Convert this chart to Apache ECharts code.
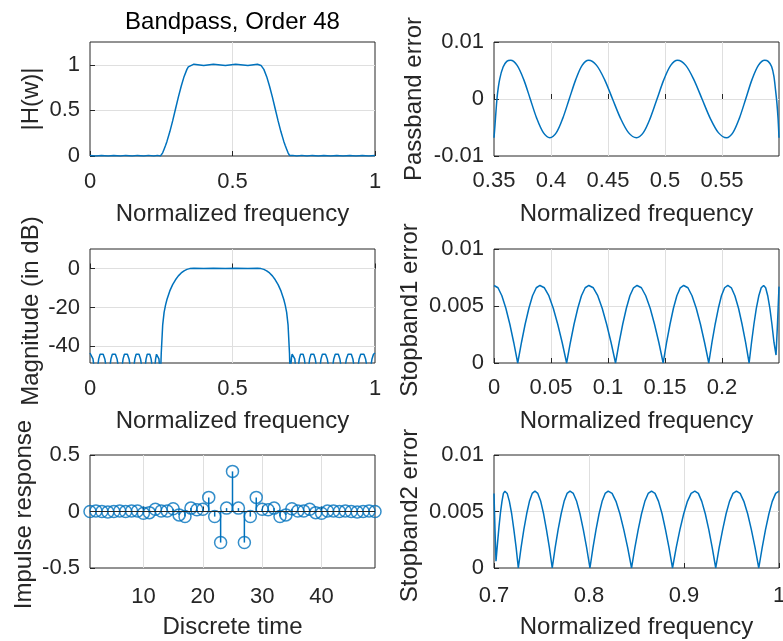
<!DOCTYPE html>
<html><head><meta charset="utf-8">
<script src="https://cdn.jsdelivr.net/npm/echarts@6/dist/echarts.min.js"></script>
<style>html,body{margin:0;padding:0;background:#fff}#c{width:783px;height:641px}</style>
</head><body><div id="c"></div>
<script>
// ---------------- data ----------------
// |H(w)| (top-left)
const magF = [0,0.0208,0.0403,0.0637,0.0832,0.1066,0.1255,0.1484,0.1664,0.1884,0.2051,0.2238,0.2365,0.2474,0.25,
  0.255,0.26,0.265,0.27,0.28,0.29,0.30,0.31,0.32,0.33,0.34,0.345,0.35,
  0.3646,0.399,0.433,0.475,0.511,0.554,0.5875,0.6,
  0.605,0.61,0.62,0.63,0.64,0.65,0.66,0.67,0.68,0.685,0.69,0.695,0.7,
  0.7021,0.7115,0.7256,0.7431,0.7613,0.78,0.801,0.8202,0.8448,0.8658,0.8879,0.9114,0.9334,0.9552,0.9787,1.0];
const magV = [0.0068,0,0.0068,0,0.0068,0,0.0068,0,0.0068,0,0.0068,0,0.0068,0.0007,0.0067,
  0.035,0.075,0.115,0.16,0.265,0.385,0.515,0.645,0.765,0.87,0.95,0.978,0.993,
  1.0068,0.9932,1.0068,0.9932,1.0068,0.9932,1.0068,0.9932,
  0.978,0.95,0.87,0.765,0.645,0.515,0.385,0.265,0.16,0.115,0.075,0.035,0.0066,
  0.0006,0.0068,0,0.0068,0,0.0068,0,0.0068,0,0.0068,0,0.0068,0,0.0068,0,0.0068];

// Magnitude in dB (middle-left)
const dbF = [0,0.0052,0.0104,0.0156,0.0208,0.0257,0.0306,0.0354,0.0403,0.0462,0.052,0.0579,0.0637,
  0.0686,0.0735,0.0783,0.0832,0.0891,0.0949,0.1008,0.1066,
  0.1113,0.1161,0.1208,0.1255,0.1312,0.137,0.1427,0.1484,
  0.1529,0.1574,0.1619,0.1664,0.1719,0.1774,0.1829,0.1884,
  0.1926,0.1968,0.2009,0.2051,0.2098,0.2145,0.2191,0.2238,
  0.227,0.2302,0.2333,0.2365,0.2392,0.2419,0.2447,0.2474,0.2487,0.25,
  0.255,0.26,0.265,0.27,0.28,0.29,0.30,0.31,0.32,0.33,0.34,0.345,0.35,
  0.3646,0.399,0.433,0.475,0.511,0.554,0.5875,0.6,
  0.605,0.61,0.62,0.63,0.64,0.65,0.66,0.67,0.68,0.685,0.69,0.695,0.7,0.701,0.7021,
  0.7045,0.7068,0.7092,0.7115,0.715,0.7186,0.7221,0.7256,
  0.73,0.7344,0.7387,0.7431,0.7477,0.7522,0.7568,0.7613,
  0.766,0.7707,0.7753,0.78,0.7853,0.7905,0.7958,0.801,
  0.8058,0.8106,0.8154,0.8202,0.8264,0.8325,0.8387,0.8448,
  0.8501,0.8553,0.8606,0.8658,0.8713,0.8768,0.8824,0.8879,
  0.8938,0.8997,0.9055,0.9114,0.9169,0.9224,0.9279,0.9334,
  0.9389,0.9443,0.9498,0.9552,0.9611,0.967,0.9728,0.9787,
  0.984,0.9894,0.9947,1.0];
const dbV = [-43.35,-44.0,-46.4,-51.7,-70,-51.7,-46.4,-44.0,-43.35,-44.0,-46.4,-51.7,-70,
  -51.7,-46.4,-44.0,-43.35,-44.0,-46.4,-51.7,-70,
  -51.7,-46.4,-44.0,-43.35,-44.0,-46.4,-51.7,-70,
  -51.7,-46.4,-44.0,-43.35,-44.0,-46.4,-51.7,-70,
  -51.7,-46.4,-44.0,-43.35,-44.0,-46.4,-51.7,-70,
  -51.7,-46.4,-44.0,-43.35,-44.0,-46.4,-51.7,-63.1,-49.1,-43.5,
  -29.1,-22.5,-18.8,-15.9,-11.5,-8.3,-5.8,-3.8,-2.3,-1.2,-0.45,-0.19,-0.06,
  0.06,-0.06,0.06,-0.06,0.06,-0.06,0.06,-0.06,
  -0.19,-0.45,-1.2,-2.3,-3.8,-5.8,-8.3,-11.5,-15.9,-18.8,-22.5,-29.1,-43.6,-49.1,-64.4,
  -50.5,-46.0,-43.9,-43.35,-44.0,-46.4,-51.7,-70,
  -51.7,-46.4,-44.0,-43.35,-44.0,-46.4,-51.7,-70,
  -51.7,-46.4,-44.0,-43.35,-44.0,-46.4,-51.7,-70,
  -51.7,-46.4,-44.0,-43.35,-44.0,-46.4,-51.7,-70,
  -51.7,-46.4,-44.0,-43.35,-44.0,-46.4,-51.7,-70,
  -51.7,-46.4,-44.0,-43.35,-44.0,-46.4,-51.7,-70,
  -51.7,-46.4,-44.0,-43.35,-44.0,-46.4,-51.7,-70,
  -51.7,-46.4,-44.0,-43.35];

// Passband error (top-right)
const pbF = [0.35,0.3509,0.3518,0.353,0.355,0.358,0.3612,0.3646,
  0.3703,0.3761,0.3818,0.3875,0.3933,0.399,
  0.4047,0.4103,0.416,0.4217,0.4273,0.433,
  0.44,0.447,0.454,0.461,0.468,0.475,
  0.481,0.487,0.493,0.499,0.505,0.511,
  0.5182,0.5253,0.5325,0.5397,0.5468,0.554,
  0.5596,0.5652,0.5708,0.5763,0.5819,0.5875,
  0.5905,0.5935,0.5955,0.597,0.5982,0.5992,0.6];
const pbE = [-0.0068,-0.0045,-0.002,0.0008,0.0035,0.0056,0.0066,0.0068,
  0.0059,0.0034,0,-0.0034,-0.0059,-0.0068,
  -0.0059,-0.0034,0,0.0034,0.0059,0.0068,
  0.0059,0.0034,0,-0.0034,-0.0059,-0.0068,
  -0.0059,-0.0034,0,0.0034,0.0059,0.0068,
  0.0059,0.0034,0,-0.0034,-0.0059,-0.0068,
  -0.0059,-0.0034,0,0.0034,0.0059,0.0068,
  0.0066,0.0057,0.004,0.0015,-0.0008,-0.0035,-0.0068];

// Stopband 1 error (middle-right)
const sb1F = [0,0.0035,0.0069,0.0104,0.0139,0.0173,0.0208,
  0.0241,0.0273,0.0306,0.0338,0.0371,0.0403,0.0442,0.0481,0.052,0.0559,0.0598,0.0637,
  0.067,0.0702,0.0735,0.0767,0.08,0.0832,0.0871,0.091,0.0949,0.0988,0.1027,0.1066,
  0.1098,0.1129,0.1161,0.1192,0.1224,0.1255,0.1293,0.1331,0.137,0.1408,0.1446,0.1484,
  0.1514,0.1544,0.1574,0.1604,0.1634,0.1664,0.1701,0.1737,0.1774,0.1811,0.1847,0.1884,
  0.1912,0.194,0.1968,0.1995,0.2023,0.2051,0.2082,0.2113,0.2145,0.2176,0.2207,0.2238,
  0.2259,0.228,0.2301,0.2323,0.2344,0.2365,0.2383,0.2401,0.242,0.2438,0.2456,0.2474,
  0.2487,0.25];
const sb1E = [0.0068,0.0066,0.0059,0.0048,0.0034,0.0018,0,
  0.0018,0.0034,0.0048,0.0059,0.0066,0.0068,0.0066,0.0059,0.0048,0.0034,0.0018,0,
  0.0018,0.0034,0.0048,0.0059,0.0066,0.0068,0.0066,0.0059,0.0048,0.0034,0.0018,0,
  0.0018,0.0034,0.0048,0.0059,0.0066,0.0068,0.0066,0.0059,0.0048,0.0034,0.0018,0,
  0.0018,0.0034,0.0048,0.0059,0.0066,0.0068,0.0066,0.0059,0.0048,0.0034,0.0018,0,
  0.0018,0.0034,0.0048,0.0059,0.0066,0.0068,0.0066,0.0059,0.0048,0.0034,0.0018,0,
  0.0018,0.0034,0.0048,0.0059,0.0066,0.0068,0.0066,0.0059,0.0048,0.0034,0.0018,0.0007,
  0.0035,0.0067];

// Stopband 2 error (bottom-right)
const sb2F = [0.7,0.701,0.7021,
  0.7037,0.7052,0.7068,0.7084,0.7099,0.7115,0.7139,0.7162,0.7186,0.7209,0.7233,0.7256,
  0.7285,0.7314,0.7344,0.7373,0.7402,0.7431,0.7461,0.7492,0.7522,0.7552,0.7583,0.7613,
  0.7644,0.7675,0.7707,0.7738,0.7769,0.78,0.7835,0.787,0.7905,0.794,0.7975,0.801,
  0.8042,0.8074,0.8106,0.8138,0.817,0.8202,0.8243,0.8284,0.8325,0.8366,0.8407,0.8448,
  0.8483,0.8518,0.8553,0.8588,0.8623,0.8658,0.8695,0.8732,0.8769,0.8805,0.8842,0.8879,
  0.8918,0.8957,0.8997,0.9036,0.9075,0.9114,0.9151,0.9187,0.9224,0.9261,0.9297,0.9334,
  0.937,0.9407,0.9443,0.9479,0.9516,0.9552,0.9591,0.963,0.967,0.9709,0.9748,0.9787,
  0.9823,0.9858,0.9894,0.9929,0.9965,1.0];
const sb2E = [0.0066,0.0035,0.0006,
  0.0022,0.0036,0.0049,0.0059,0.0066,0.0068,0.0066,0.0059,0.0048,0.0034,0.0018,0,
  0.0018,0.0034,0.0048,0.0059,0.0066,0.0068,0.0066,0.0059,0.0048,0.0034,0.0018,0,
  0.0018,0.0034,0.0048,0.0059,0.0066,0.0068,0.0066,0.0059,0.0048,0.0034,0.0018,0,
  0.0018,0.0034,0.0048,0.0059,0.0066,0.0068,0.0066,0.0059,0.0048,0.0034,0.0018,0,
  0.0018,0.0034,0.0048,0.0059,0.0066,0.0068,0.0066,0.0059,0.0048,0.0034,0.0018,0,
  0.0018,0.0034,0.0048,0.0059,0.0066,0.0068,0.0066,0.0059,0.0048,0.0034,0.0018,0,
  0.0018,0.0034,0.0048,0.0059,0.0066,0.0068,0.0066,0.0059,0.0048,0.0034,0.0018,0,
  0.0018,0.0034,0.0048,0.0059,0.0066,0.0068];

// Impulse response (bottom-left), n = 1..49
const impN = [1,2,3,4,5,6,7,8,9,10,11,12,13,14,15,16,17,18,19,20,21,22,23,24,25,
  26,27,28,29,30,31,32,33,34,35,36,37,38,39,40,41,42,43,44,45,46,47,48,49];
const impH = [0,0.005,0,-0.005,0,0.005,0,0.005,0.005,-0.015,-0.01,0.02,0.005,0.005,0.025,-0.03,-0.045,0.03,0.015,0.02,0.125,-0.045,-0.275,0.03,0.355,
  0.03,-0.275,-0.045,0.125,0.02,0.015,0.03,-0.045,-0.03,0.025,0.005,0.005,0.02,-0.01,-0.015,0.005,0.005,0,0.005,0,-0.005,0,0.005,0];

const titleText = 'Bandpass, Order 48';
const xNames = ['Normalized frequency','Normalized frequency','Normalized frequency','Normalized frequency','Discrete time','Normalized frequency'];
const yNames = ['|H(w)|','Passband error','Magnitude (in dB)','Stopband1 error','Impulse response','Stopband2 error'];

// ---------------- chart ----------------
const FONT = '"Liberation Sans", Arial, Helvetica, sans-serif';
const TXT = '#262626';
const BLUE = '#0072BD';
const GRIDC = '#dfdfdf';
const TICK_FS = 22, NAME_FS = 24;
const zip = (a, b) => a.map((v, i) => [v, b[i]]);

const grids = [
  {left: 90, top: 42, width: 285, height: 114},
  {left: 494, top: 42, width: 285, height: 114},
  {left: 90, top: 249, width: 285, height: 114},
  {left: 494, top: 249, width: 285, height: 114},
  {left: 90, top: 455, width: 285, height: 113},
  {left: 494, top: 455, width: 285, height: 113}
].map(g => Object.assign(g, {show: true, borderColor: TXT, borderWidth: 1, containLabel: false, outerBoundsMode: 'none'}));

function lab(margin, extra) {
  return Object.assign({fontFamily: FONT, fontSize: TICK_FS, color: TXT, margin: margin}, extra || {});
}
function axisBase(gi, name, gap, extra, namePad) {
  return Object.assign({
    gridIndex: gi, type: 'value', name: name, nameLocation: 'middle', nameGap: gap,
    nameTextStyle: {fontFamily: FONT, fontSize: NAME_FS, color: TXT, padding: namePad || 0},
    axisLine: {show: false},
    axisTick: {show: true, inside: true, length: 5, lineStyle: {color: TXT, width: 1}},
    axisLabel: lab(12),
    splitLine: {show: true, showMinLine: false, showMaxLine: false, lineStyle: {color: GRIDC, width: 1}}
  }, extra);
}
const noMax = {showMaxLabel: false};
const noEnds = {showMinLabel: false, showMaxLabel: false};

const xAxes = [
  axisBase(0, xNames[0], 46, {min: 0, max: 1, interval: 0.5, axisLabel: lab(15)}),
  axisBase(1, xNames[1], 46, {min: 0.35, max: 0.6, interval: 0.05, axisLabel: lab(14, noMax)}),
  axisBase(2, xNames[2], 46, {min: 0, max: 1, interval: 0.5, axisLabel: lab(15)}),
  axisBase(3, xNames[3], 46, {min: 0, max: 0.25, interval: 0.05, axisLabel: lab(14, noMax)}),
  axisBase(4, xNames[4], 47, {min: 1, max: 49, splitNumber: 5, axisLabel: lab(18, noEnds)}),
  axisBase(5, xNames[5], 47, {min: 0.7, max: 1, interval: 0.1, axisLabel: lab(17)})
];
const yAxes = [
  axisBase(0, yNames[0], 47, {min: 0, max: 1.25, interval: 0.5, axisLabel: lab(10, noMax)}),
  axisBase(1, yNames[1], 68, {min: -0.01, max: 0.01, interval: 0.01, axisLabel: lab(10)}),
  axisBase(2, yNames[2], 47, {min: -48.5, max: 10, splitNumber: 3, axisLabel: lab(10, noEnds)}, [0, 10, 0, 0]),
  axisBase(3, yNames[3], 72, {min: 0, max: 0.01, interval: 0.005, axisLabel: lab(10)}, [0, 8, 0, 0]),
  axisBase(4, yNames[4], 54, {min: -0.5, max: 0.5, interval: 0.5, axisLabel: lab(10)}, [0, 6, 0, 0]),
  axisBase(5, yNames[5], 72, {min: 0, max: 0.01, interval: 0.005, axisLabel: lab(10)}, [0, 8, 0, 0])
];

const lineS = (i, data, extra) => Object.assign({
  type: 'line', xAxisIndex: i, yAxisIndex: i, data: data, showSymbol: false, symbol: 'none',
  lineStyle: {color: BLUE, width: 1.5}, itemStyle: {color: BLUE}, clip: true, silent: true
}, extra || {});

const option = {
  animation: false,
  backgroundColor: '#fff',
  title: {text: titleText, left: 227.5, top: 5, textAlign: 'center',
    textStyle: {fontFamily: FONT, fontSize: NAME_FS, fontWeight: 'normal', color: '#000'}},
  grid: grids,
  xAxis: xAxes,
  yAxis: yAxes,
  series: [
    lineS(0, zip(magF, magV)),
    lineS(1, zip(pbF, pbE), {smooth: 0.3}),
    lineS(2, zip(dbF, dbV)),
    lineS(3, zip(sb1F, sb1E)),
    {type: 'bar', xAxisIndex: 4, yAxisIndex: 4, data: zip(impN, impH), barWidth: 1.5,
      itemStyle: {color: BLUE}, silent: true},
    {type: 'scatter', xAxisIndex: 4, yAxisIndex: 4, data: zip(impN, impH), symbol: 'circle', symbolSize: 12,
      itemStyle: {color: 'rgba(0,0,0,0)', borderColor: BLUE, borderWidth: 1.5}, clip: false, silent: true,
      markLine: {silent: true, symbol: 'none', label: {show: false}, animation: false,
        lineStyle: {color: TXT, type: 'solid', width: 1.2}, data: [{yAxis: 0}]}},
    lineS(5, zip(sb2F, sb2E))
  ]
};
const chart = echarts.init(document.getElementById('c'), null, {renderer: 'canvas'});
chart.setOption(option);
</script>
</body></html>
